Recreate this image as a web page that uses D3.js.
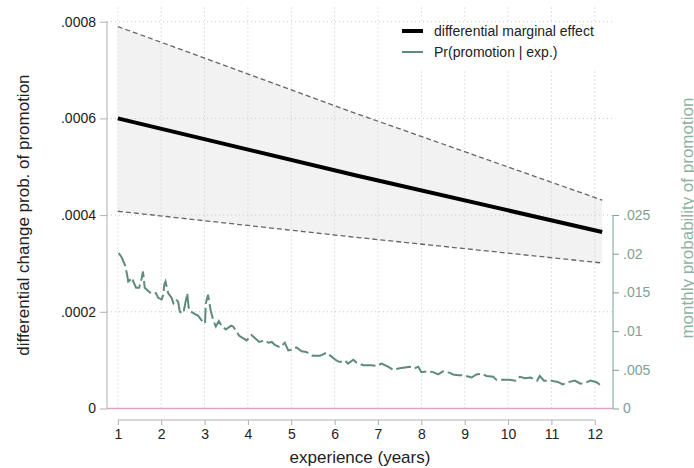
<!DOCTYPE html>
<html>
<head>
<meta charset="utf-8">
<script src="https://cdn.jsdelivr.net/npm/d3@7"></script>
<style>
body { margin: 0; background: #fff; }
text { font-family: "Liberation Sans", Arial, sans-serif; }
</style>
</head>
<body>
<div id="content"></div>
<script>
// marginal effect and its confidence band (experience in years)
var effectYears = [1, 6.5, 12.17];
var effect = [0.0006, 0.000482, 0.000365];
var upperCI = [0.00079, 0.00061, 0.000431];
var lowerCI = [0.000408, 0.000354, 0.000301];

// monthly probability of promotion by experience
var promoYears = [1.02, 1.09, 1.16, 1.21, 1.24, 1.28, 1.32, 1.35, 1.42, 1.49, 1.55, 1.58, 1.62, 1.74, 1.81, 1.88, 1.93, 2.01, 2.05, 2.07,
    2.10, 2.16, 2.24, 2.28, 2.34, 2.39, 2.43, 2.51, 2.57, 2.60, 2.64, 2.78, 2.85, 2.93, 3.01, 3.03, 3.08, 3.14, 3.20, 3.26,
    3.33, 3.39, 3.49, 3.61, 3.66, 3.74, 3.80, 3.97, 4.08, 4.16, 4.26, 4.39, 4.47, 4.55, 4.62, 4.74, 4.85, 4.93, 5.01, 5.12,
    5.24, 5.35, 5.43, 5.50, 5.66, 5.81, 5.93, 6.04, 6.12, 6.24, 6.31, 6.43, 6.51, 6.66, 6.85, 6.97, 7.08, 7.23, 7.35, 7.50,
    7.62, 7.73, 7.85, 7.93, 8.00, 8.16, 8.27, 8.39, 8.50, 8.66, 8.73, 8.85, 8.96, 9.16, 9.27, 9.39, 9.50, 9.66, 9.73, 9.89,
    10.02, 10.18, 10.27, 10.39, 10.52, 10.67, 10.73, 10.83, 11.00, 11.16, 11.26, 11.39, 11.54, 11.67, 11.77, 11.90, 12.04, 12.18];
var promoProb = [0.0201, 0.0195, 0.0186, 0.0174, 0.0164, 0.0166, 0.0162, 0.0165, 0.0156, 0.0156, 0.0168, 0.0177, 0.0156, 0.0150, 0.0148, 0.0149, 0.0143, 0.0141, 0.0147, 0.0160,
    0.0164, 0.0149, 0.0143, 0.0136, 0.0141, 0.0138, 0.0125, 0.0123, 0.0140, 0.0149, 0.0127, 0.0122, 0.0120, 0.0114, 0.0110, 0.0136, 0.0147, 0.0127, 0.0114, 0.0106,
    0.0113, 0.0107, 0.0102, 0.0107, 0.0106, 0.0099, 0.0094, 0.0088, 0.0095, 0.0091, 0.0086, 0.0088, 0.0085, 0.0086, 0.0082, 0.0079, 0.0085, 0.0075, 0.0076, 0.0079,
    0.0074, 0.0073, 0.0070, 0.0068, 0.0068, 0.0072, 0.0067, 0.0062, 0.0060, 0.0062, 0.0058, 0.0063, 0.0059, 0.0056, 0.0056, 0.0055, 0.0058, 0.0054, 0.0050, 0.0052,
    0.0053, 0.0054, 0.0052, 0.0054, 0.0047, 0.0048, 0.0047, 0.0044, 0.0048, 0.0046, 0.0044, 0.0043, 0.0043, 0.0040, 0.0044, 0.0045, 0.0042, 0.0041, 0.0037, 0.0037,
    0.0037, 0.0036, 0.0041, 0.0039, 0.0040, 0.0036, 0.0042, 0.0036, 0.0036, 0.0034, 0.0031, 0.0034, 0.0036, 0.0032, 0.0033, 0.0036, 0.0034, 0.0028];

var xTicks = [1, 2, 3, 4, 5, 6, 7, 8, 9, 10, 11, 12];
var yTicks = [0, 0.0002, 0.0004, 0.0006, 0.0008];
var yTickLabels = ["0", ".0002", ".0004", ".0006", ".0008"];
var y2Ticks = [0, 0.005, 0.01, 0.015, 0.02, 0.025];
var y2TickLabels = ["0", ".005", ".01", ".015", ".02", ".025"];

var legendLabels = ["differential marginal effect", "Pr(promotion | exp.)"];

var green = "#5e8b7b",
    greenAxis = "#7fa093",
    greenTitle = "#8fb1a2",
    grid = "#c8c8c8";

var width = 694,
    height = 468;

var svg = d3.select("div#content").append("svg")
    .attr("width", width)
    .attr("height", height);

var x = d3.scaleLinear().domain([0.75, 12.42]).range([107, 613]);
var y = d3.scaleLinear().domain([0, 0.0008]).range([408.5, 21.7]);
var y2 = d3.scaleLinear().domain([0, 0.025]).range([408.5, 215]);

var band = effectYears.map(function(d, i) {
    return {x: d, lo: lowerCI[i], hi: upperCI[i], m: effect[i]};
});
var promo = promoYears.map(function(d, i) {
    return {x: d, p: promoProb[i]};
});

// confidence band fill
svg.append("path")
    .datum(band)
    .attr("fill", "#f2f2f2")
    .attr("d", d3.area()
        .x(function(d) { return x(d.x); })
        .y0(function(d) { return y(d.lo); })
        .y1(function(d) { return y(d.hi); }));

// gridlines
svg.append("g").selectAll("line")
    .data(xTicks)
    .enter().append("line")
    .attr("x1", function(d) { return x(d); })
    .attr("x2", function(d) { return x(d); })
    .attr("y1", y(0))
    .attr("y2", y(0.00083))
    .attr("stroke", grid)
    .attr("stroke-dasharray", "1,3");

svg.append("g").selectAll("line")
    .data(yTicks.slice(1))
    .enter().append("line")
    .attr("x1", x.range()[0])
    .attr("x2", x.range()[1])
    .attr("y1", function(d) { return y(d); })
    .attr("y2", function(d) { return y(d); })
    .attr("stroke", grid)
    .attr("stroke-dasharray", "1,3");

// zero line
svg.append("line")
    .attr("x1", x.range()[0])
    .attr("x2", x.range()[1])
    .attr("y1", y(0))
    .attr("y2", y(0))
    .attr("stroke", "#e4a2c8")
    .attr("stroke-width", 1.6);

// probability of promotion
svg.append("path")
    .datum(promo)
    .attr("fill", "none")
    .attr("stroke", green)
    .attr("stroke-width", 2)
    .attr("stroke-dasharray", "15,4")
    .attr("d", d3.line()
        .x(function(d) { return x(d.x); })
        .y(function(d) { return y2(d.p); }));

// CI bounds
["hi", "lo"].forEach(function(k) {
    svg.append("path")
        .datum(band)
        .attr("fill", "none")
        .attr("stroke", "#666")
        .attr("stroke-width", 1.3)
        .attr("stroke-dasharray", "5,3")
        .attr("d", d3.line()
            .x(function(d) { return x(d.x); })
            .y(function(d) { return y(d[k]); }));
});

// marginal effect
svg.append("path")
    .datum(band)
    .attr("fill", "none")
    .attr("stroke", "#000")
    .attr("stroke-width", 4)
    .attr("d", d3.line()
        .x(function(d) { return x(d.x); })
        .y(function(d) { return y(d.m); }));

// left axis
var left = svg.append("g")
    .attr("transform", "translate(" + x.range()[0] + ",0)")
    .call(d3.axisLeft(y).tickValues(yTicks).tickSize(7).tickPadding(4)
        .tickFormat(function(d, i) { return yTickLabels[i]; }));
left.select(".domain").attr("stroke", "#b0b0b0").attr("d", "M0," + y(0.0008) + "V" + y(0));
left.selectAll(".tick line").attr("stroke", "#b0b0b0");
left.selectAll(".tick text").attr("fill", "#222").style("font-size", "14px");

// right axis
var right = svg.append("g")
    .attr("transform", "translate(" + x.range()[1] + ",0)")
    .call(d3.axisRight(y2).tickValues(y2Ticks).tickSize(6).tickPadding(4)
        .tickFormat(function(d, i) { return y2TickLabels[i]; }));
right.select(".domain").attr("stroke", greenAxis).attr("d", "M0," + y2(0.025) + "V" + y2(0));
right.selectAll(".tick line").attr("stroke", greenAxis);
right.selectAll(".tick text").attr("fill", greenAxis).style("font-size", "14px");

// bottom axis
var bottom = svg.append("g")
    .attr("transform", "translate(0,420)")
    .call(d3.axisBottom(x).tickValues(xTicks).tickSize(5).tickPadding(4));
bottom.select(".domain").attr("stroke", "#b0b0b0").attr("d", "M" + x(1) + ",0H" + x(12));
bottom.selectAll(".tick line").attr("stroke", "#b0b0b0");
bottom.selectAll(".tick text").attr("fill", "#222").style("font-size", "14px");

// axis titles
svg.append("text")
    .attr("transform", "translate(29," + ((y(0) + y(0.0008)) / 2) + ") rotate(-90)")
    .attr("text-anchor", "middle")
    .style("font-size", "17px")
    .attr("fill", "#222")
    .text("differential change prob. of promotion");

svg.append("text")
    .attr("transform", "translate(693," + ((y(0) + y(0.0008)) / 2 + 3) + ") rotate(-90)")
    .attr("text-anchor", "middle")
    .style("font-size", "17px")
    .attr("fill", greenTitle)
    .text("monthly probability of promotion");

svg.append("text")
    .attr("x", (x.range()[0] + x.range()[1]) / 2)
    .attr("y", 463)
    .attr("text-anchor", "middle")
    .style("font-size", "17px")
    .attr("fill", "#222")
    .text("experience (years)");

// legend
var legend = svg.append("g").attr("transform", "translate(392,23)");
legend.append("rect")
    .attr("width", 214)
    .attr("height", 47)
    .attr("fill", "#fff");

var items = legend.selectAll(".item")
    .data(legendLabels)
    .enter().append("g")
    .attr("class", "item")
    .attr("transform", function(d, i) { return "translate(0," + (8 + i * 21) + ")"; });

items.append("line")
    .attr("x1", 10)
    .attr("x2", 31)
    .attr("stroke", function(d, i) { return i == 0 ? "#000" : green; })
    .attr("stroke-width", function(d, i) { return i == 0 ? 4 : 2; });

items.append("text")
    .attr("x", 42)
    .attr("y", 5)
    .style("font-size", "14px")
    .attr("fill", "#222")
    .text(function(d) { return d; });
</script>
</body>
</html>
